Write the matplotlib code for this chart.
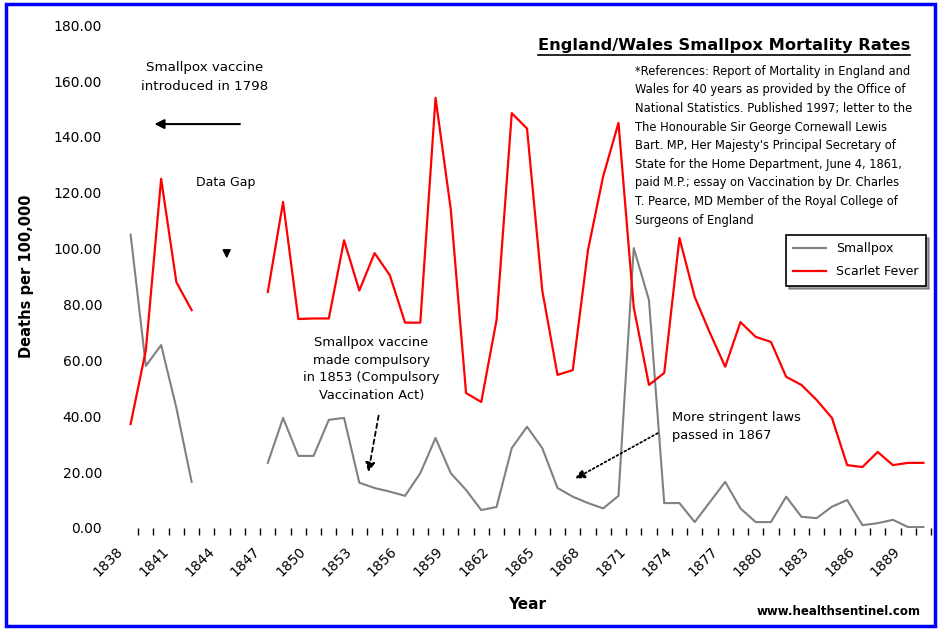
import numpy as np
import matplotlib
matplotlib.use('Agg')
import matplotlib.pyplot as plt
from matplotlib.lines import Line2D
from matplotlib.patches import Rectangle
from matplotlib.transforms import ScaledTranslation

# years shown on the category axis (1843-1846 have no figures)
anos = list(range(1838, 1891))

# deaths per 100,000 population
smallpox = [105.0, 58.0, 65.5, 43.0, 16.5,
            np.nan, np.nan, np.nan, np.nan,
            23.3, 39.4, 25.8, 25.8, 38.7, 39.4, 16.2, 14.3, 13.0, 11.5,
            19.6, 32.2, 19.6, 13.6, 6.4, 7.5, 28.6, 36.2, 28.6, 14.3,
            11.2, 8.9, 7.0, 11.5,
            100.2, 81.6, 8.9, 8.9, 2.1, 9.3, 16.5, 7.0, 2.1, 2.1,
            11.2, 4.0, 3.5, 7.6, 10.0, 1.0, 1.7, 2.9, 0.3, 0.3]

scarlet_fever = [37.2, 63.7, 125.0, 88.0, 78.0,
                 np.nan, np.nan, np.nan, np.nan,
                 84.5, 116.7, 74.8, 75.0, 75.0, 103.0, 85.0, 98.4, 90.5, 73.5,
                 73.5, 154.0, 114.0, 48.3, 45.1, 74.4, 148.5, 143.0, 85.0, 54.8,
                 56.5, 99.5, 126.0, 145.0,
                 79.0, 51.2, 55.5, 103.8, 82.7, 69.8, 57.7, 73.7, 68.4, 66.6,
                 54.1, 51.2, 45.8, 39.4, 22.5, 21.8, 27.2, 22.5, 23.3, 23.3]

yticks = [0, 20, 40, 60, 80, 100, 120, 140, 160, 180]

referencias = ("*References: Report of Mortality in England and\n"
               "Wales for 40 years as provided by the Office of\n"
               "National Statistics. Published 1997; letter to the\n"
               "The Honourable Sir George Cornewall Lewis\n"
               "Bart. MP, Her Majesty's Principal Secretary of\n"
               "State for the Home Department, June 4, 1861,\n"
               "paid M.P.; essay on Vaccination by Dr. Charles\n"
               "T. Pearce, MD Member of the Royal College of\n"
               "Surgeons of England")

plt.rcParams['font.family'] = 'DejaVu Sans'

fig = plt.figure(figsize=(9.39, 6.3), dpi=100)
ax = fig.add_axes([0.131, 0.162, 0.8605, 0.798])

x = np.arange(len(anos))
ax.plot(x, smallpox, color='#808080', lw=1.5, label='Smallpox')
ax.plot(x, scarlet_fever, color='#ff0000', lw=1.6, label='Scarlet Fever')

ax.set_xlim(-0.5, len(anos) - 0.5)
ax.set_ylim(0, 180)

for s in ax.spines.values():
    s.set_visible(False)

# y axis
ax.set_yticks(yticks)
ax.set_yticklabels(['%.2f' % v for v in yticks], fontsize=10)
ax.tick_params(axis='y', length=0, pad=15)
ax.set_ylabel('Deaths per 100,000', fontsize=10.5, fontweight='bold', labelpad=14)

# x axis: a label every third year, small marks between categories
ax.set_xticks(x[::3])
ax.set_xticklabels([str(a) for a in anos[::3]], fontsize=10,
                   rotation=45, ha='right', va='center', rotation_mode='anchor')
ax.tick_params(axis='x', length=0, pad=15)
ax.set_xticks(np.arange(len(anos)) + 0.5, minor=True)
ax.tick_params(axis='x', which='minor', length=5, direction='out', width=1)
desloc = ScaledTranslation(-10 / 100, 0, fig.dpi_scale_trans)
for lbl in ax.get_xticklabels():
    lbl.set_transform(lbl.get_transform() + desloc)
fig.text(0.561, 0.04, 'Year', fontsize=11, fontweight='bold', ha='center', va='center')

# notes on the chart
ax.text(4.86, 161.6, 'Smallpox vaccine\nintroduced in 1798', fontsize=9.6,
        ha='center', va='center', linespacing=1.6)
ax.annotate('', xy=(1.38, 144.6), xytext=(7.35, 144.6),
            arrowprops=dict(arrowstyle='-|>', color='black', lw=1.5, mutation_scale=14))

ax.text(6.24, 123.8, 'Data Gap', fontsize=9, ha='center', va='center')
ax.annotate('', xy=(6.3, 95.5), xytext=(6.3, 99.0),
            arrowprops=dict(arrowstyle='-|>', color='black', lw=1.2, mutation_scale=12))

ax.text(15.8, 56.9, 'Smallpox vaccine\nmade compulsory\nin 1853 (Compulsory\nVaccination Act)',
        fontsize=9.4, ha='center', va='center', linespacing=1.45)
ax.annotate('', xy=(15.56, 19.0), xytext=(16.3, 41.2),
            arrowprops=dict(arrowstyle='-|>', color='black', lw=1.3, ls=(0, (2.5, 2)),
                            mutation_scale=14))

ax.text(35.5, 36.3, 'More stringent laws\npassed in 1867', fontsize=9.4,
        ha='left', va='center', linespacing=1.45)
ax.annotate('', xy=(29.0, 17.2), xytext=(34.73, 34.4),
            arrowprops=dict(arrowstyle='-|>', color='black', lw=1.3, ls=(0, (1, 1.5)),
                            mutation_scale=14))

# title with underline
titulo = fig.text(0.771, 0.927, 'England/Wales Smallpox Mortality Rates', fontsize=11.7,
                  fontweight='bold', ha='center', va='center')
fig.text(0.676, 0.897, referencias, fontsize=8.3, ha='left', va='top', linespacing=1.56)

leg = ax.legend(loc='upper left', bbox_to_anchor=(0.837, 0.627),
                bbox_transform=fig.transFigure, borderaxespad=0, fontsize=9,
                frameon=True, fancybox=False, shadow=True, framealpha=1,
                edgecolor='black', handlelength=2.6, borderpad=0.6, labelspacing=0.8)
leg.get_frame().set_linewidth(1.2)

fig.text(0.98, 0.03, 'www.healthsentinel.com', fontsize=8.5, fontweight='bold',
         ha='right', va='center')

# blue frame around the whole picture
fig.patches.append(Rectangle((0.006, 0.006), 0.99, 0.988, transform=fig.transFigure,
                             fill=False, edgecolor='#0000ff', lw=2.5))

fig.canvas.draw()
bb = titulo.get_window_extent().transformed(fig.transFigure.inverted())
fig.lines.append(Line2D([bb.x0, bb.x1], [bb.y0 - 0.002, bb.y0 - 0.002],
                        transform=fig.transFigure, color='black', lw=1.2))

fig.savefig('out.png', dpi=100)
